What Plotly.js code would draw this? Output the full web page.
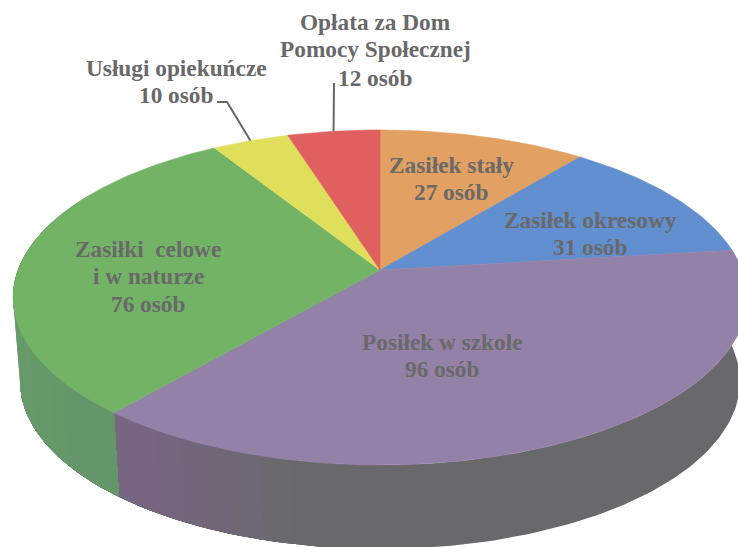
<!DOCTYPE html>
<html>
<head>
<meta charset="utf-8">
<script src="https://cdn.plot.ly/plotly-3.0.1.min.js"></script>
<style>html,body{margin:0;padding:0;background:#fff}#chart{width:738px;height:547px}</style>
</head>
<body>
<div id="chart"></div>
<script>
// ---- data, clockwise from 12 o'clock ----
const categories = [
  ["Zasiłek stały"],
  ["Zasiłek okresowy"],
  ["Posiłek w szkole"],
  ["Zasiłki\u00A0 celowe", "i w naturze"],
  ["Usługi opiekuńcze"],
  ["Opłata za Dom", "Pomocy Społecznej"]
];
const values = [27, 31, 96, 76, 10, 12];
const unit = "osób";

// ---- style ----
const topColors = ["#E2A062", "#628FCF", "#9381A8", "#72B366", "#E0DF5C", "#E06060"];
const textColor = "#696969";
const fontFamily = "Liberation Serif";
const fontSize = 23.3;

// ---- label placement: centre x and the y of each line ----
const labelX = [451, 590, 442, 148, 176, 375];
const labelY = [[165, 192], [220, 247], [342, 369], [249, 276, 304], [68, 95], [22, 49, 78]];
const leaderStart = {4: [[217, 102], [227, 102]], 5: [[334, 83]]};

// ---- projection of the tilted disc ----
const CX = 380, CY = 270, A = 362, B = 163, K = 0.164, DEPTH = 84, BOTTOM_SCALE = 0.981;
function project(deg) {
  const t = deg * Math.PI / 180, a = Math.sin(t), b = Math.cos(t), w = 1 + K * b;
  return [CX + A * a / w, CY - B * b / w];
}
function lower(p) {
  return [CX + (p[0] - CX) * BOTTOM_SCALE, p[1] + DEPTH];
}
function hex(c) { return c.map(v => Math.round(v).toString(16).padStart(2, "0")).join(""); }
function mix(c1, c2, t) { return c1.map((v, i) => v + (c2[i] - v) * t); }

const total = values.reduce((s, v) => s + v, 0);
const bounds = [0];
values.forEach(v => bounds.push(bounds[bounds.length - 1] + v / total * 360));

const traces = [];
function poly(pts, color, lineWidth) {
  traces.push({
    type: "scatter", mode: "lines", fill: "toself", fillcolor: color,
    x: pts.map(p => p[0]), y: pts.map(p => p[1]),
    line: {color: color, width: lineWidth}, hoverinfo: "skip", showlegend: false
  });
}

// rim: each band reaches to the slice's far end and the next band paints over it, so no seams show
function rimColor(index, x) {
  if (index === 3) return "#" + hex(mix([103, 153, 106], [98, 148, 104], Math.min(1, Math.max(0, (x - 20) / 100))));
  const t = Math.min(1, Math.max(0, (x - 118) / 170));
  return "#" + hex(mix([122, 100, 134], [105, 105, 108], t));
}
function rimBand(d1, d2, color) {
  const upper = [], n = Math.ceil(Math.abs(d2 - d1));
  for (let s = 0; s <= n; s++) upper.push(project(d1 + (d2 - d1) * s / n));
  const pts = upper.concat(upper.slice().reverse().map(lower));
  pts.push(upper[0]);
  poly(pts, color, 0);
}
// purple runs from the right towards the lower left, green from the left edge down to the purple
const purple = 2, green = 3, step = 4;
{
  const from = bounds[purple], to = bounds[purple + 1];
  rimBand(from, to, rimColor(purple, 400));
  for (let d = 180; d + step < to; d += step) {
    rimBand(d, to, rimColor(purple, project(d + step / 2)[0]));
  }
  const gFrom = bounds[green], gTo = Math.min(bounds[green + 1], 300);
  for (let d = gTo; d - step > gFrom; d -= step) {
    rimBand(d, gFrom, rimColor(green, project(d - step / 2)[0]));
  }
}

// top face
values.forEach((v, i) => {
  const pts = [[CX, CY]];
  const n = Math.ceil(bounds[i + 1] - bounds[i]);
  for (let s = 0; s <= n; s++) pts.push(project(bounds[i] + (bounds[i + 1] - bounds[i]) * s / n));
  pts.push([CX, CY]);
  poly(pts, topColors[i], 0.6);
});

// leader lines end on the rim at the middle of their slice
Object.keys(leaderStart).forEach(k => {
  const i = +k, end = project((bounds[i] + bounds[i + 1]) / 2), pts = leaderStart[k].concat([end]);
  traces.push({
    type: "scatter", mode: "lines", x: pts.map(p => p[0]), y: pts.map(p => p[1]),
    line: {color: "#666666", width: 2}, hoverinfo: "skip", showlegend: false
  });
});

const annotations = [];
categories.forEach((lines, i) => {
  lines.concat([values[i] + " " + unit]).forEach((text, j) => {
    annotations.push({
      x: labelX[i], y: labelY[i][j], xref: "x", yref: "y", text: text, showarrow: false,
      xanchor: "center", yanchor: "middle",
      font: {family: fontFamily, size: fontSize, color: textColor, weight: 700}
    });
  });
});

Plotly.newPlot("chart", traces, {
  width: 738, height: 547, margin: {l: 0, r: 0, t: 0, b: 0},
  paper_bgcolor: "#fff", plot_bgcolor: "#fff", showlegend: false,
  xaxis: {range: [0, 738], visible: false, fixedrange: true},
  yaxis: {range: [547, 0], visible: false, fixedrange: true},
  annotations: annotations
}, {displayModeBar: false, staticPlot: true});
</script>
</body>
</html>
